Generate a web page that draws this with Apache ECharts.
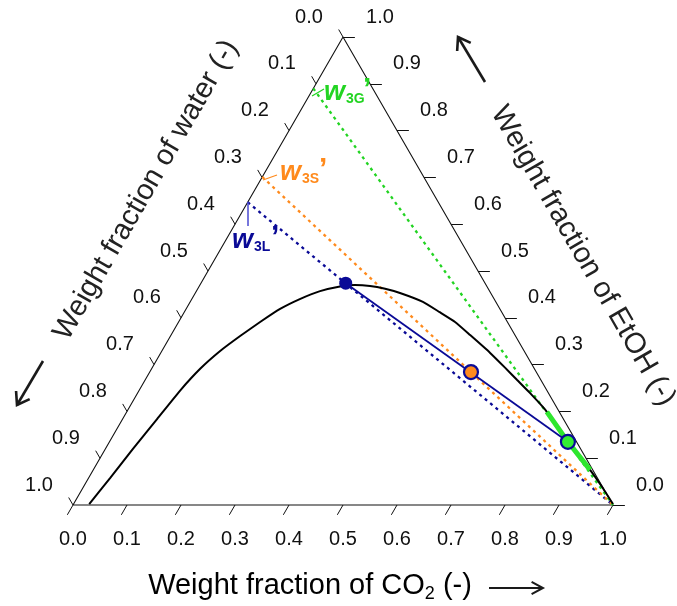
<!DOCTYPE html>
<html><head><meta charset="utf-8">
<script src="https://cdn.jsdelivr.net/npm/echarts@6/dist/echarts.min.js"></script>
<style>html,body{margin:0;padding:0;background:#fff}#c{width:677px;height:606px}</style>
</head><body><div id="c"></div>
<script>
// ---- data (ternary: CO2 fraction, EtOH fraction; water = 1 - CO2 - EtOH) ----
const tickValues = [0, 0.1, 0.2, 0.3, 0.4, 0.5, 0.6, 0.7, 0.8, 0.9, 1.0];
const tickLabels = ['0.0','0.1','0.2','0.3','0.4','0.5','0.6','0.7','0.8','0.9','1.0'];
const binodalCO2  = [0.029, 0.040, 0.051, 0.064, 0.076, 0.090, 0.108, 0.129, 0.151, 0.174, 0.200, 0.229, 0.261, 0.287, 0.316, 0.347, 0.379, 0.431, 0.473, 0.512, 0.554, 0.610, 0.654, 0.689, 0.727, 0.766, 0.778, 0.849, 0.920, 0.960, 0.999];
const binodalEtOH = [0.002, 0.058, 0.120, 0.184, 0.244, 0.291, 0.329, 0.361, 0.391, 0.419, 0.440, 0.457, 0.467, 0.470, 0.468, 0.462, 0.453, 0.434, 0.412, 0.391, 0.363, 0.325, 0.293, 0.267, 0.239, 0.209, 0.199, 0.135, 0.075, 0.039, 0.002];
const gasBranchCO2  = [0.778, 0.849, 0.920];
const gasBranchEtOH = [0.199, 0.135, 0.075];
const phaseNames = ['L', 'S', 'G'];
const phaseCO2  = [0.268, 0.595, 0.849];
const phaseEtOH = [0.474, 0.284, 0.135];
const projWater = [0.353, 0.299, 0.110];   // w3L', w3S', w3G' (CO2-free water fraction)
const phaseColors = ['#0a0a96', '#ff8a1c', '#22d422'];

const H = Math.sqrt(3) / 2;
const toXY = (c, e) => [c + e / 2, e * H];
const FONT = "'Liberation Sans', Arial, sans-serif";

const chart = echarts.init(document.getElementById('c'));

// ticks
const tickLines = [];
tickValues.forEach(t => {
  const b = toXY(t, 0); tickLines.push({coords: [b, [b[0] - 0.5 * 0.021, b[1] - H * 0.021]]});
  const l = toXY(0, 1 - t); tickLines.push({coords: [l, [l[0] - 0.5 * 0.016, l[1] + H * 0.016]]});
  const r = toXY(1 - t, t); tickLines.push({coords: [r, [r[0] + 0.022, r[1]]]});
});

const projLines = projWater.map((w, i) => ({
  coords: [toXY(0, 1 - w), toXY(1, 0)],
  lineStyle: {color: phaseColors[i]}
}));

const labelSeries = (pts, offset) => ({
  type: 'scatter', symbolSize: 0, clip: false, silent: true, z: 20,
  data: pts,
  itemStyle: {opacity: 1},
  label: {show: true, position: 'inside', offset: offset, color: '#111', fontSize: 20, fontFamily: FONT,
          textBorderWidth: 0, opacity: 1, formatter: p => p.data[2]}
});

function arrow(x1, y1, x2, y2, head, spread, w) {
  const ang = Math.atan2(y2 - y1, x2 - x1);
  const a1 = ang + Math.PI - spread, a2 = ang + Math.PI + spread;
  return [
    {type: 'line', shape: {x1, y1, x2, y2}, style: {stroke: '#1a1a1a', lineWidth: w}},
    {type: 'polyline', shape: {points: [[x2 + head * Math.cos(a1), y2 + head * Math.sin(a1)], [x2, y2], [x2 + head * Math.cos(a2), y2 + head * Math.sin(a2)]]},
     style: {stroke: '#1a1a1a', lineWidth: w, fill: null}}
  ];
}
function txt(x, baseline, s, size, color, weight, style) {
  return {type: 'text', x: x, y: baseline + 0.21 * size, z: 50,
    style: {text: s, fill: color, font: (style || 'normal') + ' ' + (weight || 'normal') + ' ' + size + 'px ' + FONT,
            align: 'left', verticalAlign: 'bottom'}};
}
function wLabel(x, base, sub, color) {
  return [
    txt(x, base, 'w', 27, color, 'bold', 'italic'),
    txt(x + 22, base + 3, sub, 14, color, 'bold'),
    txt(x + 39, base - 2, '\u2019', 30, color, 'bold')
  ];
}

const titleRich = {
  t: {fontSize: 29, fontFamily: FONT, color: '#222', lineHeight: 34, verticalAlign: 'middle'},
  s: {fontSize: 18, fontFamily: FONT, color: '#222', lineHeight: 20, verticalAlign: 'bottom'}
};

const graphic = [
  {type: 'text', x: 310, y: 586, z: 50, style: {text: '{t|Weight fraction of CO}{s|2}{t| (-)}', rich: titleRich, align: 'center', verticalAlign: 'middle'}},
  {type: 'text', x: 146, y: 190, rotation: Math.PI / 3, z: 50, style: {text: 'Weight fraction of water (-)', font: '29px ' + FONT, fill: '#222', align: 'center', verticalAlign: 'middle'}},
  {type: 'text', x: 583, y: 256, rotation: -Math.PI / 3, z: 50, style: {text: 'Weight fraction of EtOH (-)', font: '29px ' + FONT, fill: '#222', align: 'center', verticalAlign: 'middle'}},
  ...arrow(43, 361, 17, 405, 14, 0.6, 2.6),
  ...arrow(485, 82, 458, 37, 14, 0.6, 2.6),
  ...arrow(489, 588, 543, 588, 13, 0.5, 2),
  ...wLabel(324, 100, '3G', phaseColors[2]),
  ...wLabel(280, 180, '3S', phaseColors[1]),
  ...wLabel(232, 248, '3L', phaseColors[0]),
  {type: 'line', z: 50, shape: {x1: 324, y1: 89, x2: 312, y2: 96}, style: {stroke: phaseColors[2], lineWidth: 1.3}},
  {type: 'line', z: 50, shape: {x1: 277, y1: 175, x2: 263, y2: 180}, style: {stroke: phaseColors[1], lineWidth: 1.3}},
  {type: 'line', z: 50, shape: {x1: 248, y1: 202, x2: 248, y2: 226}, style: {stroke: '#4a4ad0', lineWidth: 1.5}}
];

const option = {
  animation: false,
  backgroundColor: '#fff',
  grid: {left: 73, top: 37, width: 540, height: 468},
  xAxis: {type: 'value', min: 0, max: 1, show: false},
  yAxis: {type: 'value', min: 0, max: H, show: false},
  graphic: graphic,
  series: [
    {type: 'line', clip: false, symbol: 'none', silent: true, z: 3,
     data: [toXY(0, 0), toXY(1, 0), toXY(0, 1), toXY(0, 0)],
     lineStyle: {color: '#111', width: 1.1}},
    {type: 'lines', coordinateSystem: 'cartesian2d', clip: false, silent: true, z: 3,
     data: tickLines, lineStyle: {color: '#111', width: 1, opacity: 1}},
    {type: 'lines', coordinateSystem: 'cartesian2d', clip: false, silent: true, z: 4,
     data: projLines, lineStyle: {width: 2.3, type: [3, 4], opacity: 1}},
    {type: 'line', clip: false, symbol: 'none', silent: true, z: 5, smooth: 0.15,
     data: binodalCO2.map((c, i) => toXY(c, binodalEtOH[i])),
     lineStyle: {color: '#000', width: 2}},
    {type: 'line', clip: false, symbol: 'none', silent: true, z: 6,
     data: gasBranchCO2.map((c, i) => toXY(c, gasBranchEtOH[i])),
     lineStyle: {color: '#2ee62e', width: 5}},
    {type: 'line', clip: false, symbol: 'none', silent: true, z: 7,
     data: [toXY(phaseCO2[0], phaseEtOH[0]), toXY(phaseCO2[2], phaseEtOH[2])],
     lineStyle: {color: '#0a0a96', width: 1.8}},
    {type: 'scatter', clip: false, silent: true, z: 8,
     data: phaseNames.map((n, i) => ({
       value: toXY(phaseCO2[i], phaseEtOH[i]),
       symbolSize: i === 0 ? 13 : 14,
       itemStyle: i === 0 ? {color: '#0a0a96', opacity: 1} : {color: i === 1 ? '#ff8a1c' : '#33ee33', borderColor: '#0a0a96', borderWidth: 2.2, opacity: 1}
     }))},
    labelSeries(tickValues.map((t, i) => [...toXY(t, 0), tickLabels[i]]), [0, 34]),
    labelSeries(tickValues.map((t, i) => [...toXY(0, 1 - t), tickLabels[i]]), [-34, -20]),
    labelSeries(tickValues.map((t, i) => [...toXY(1 - t, t), tickLabels[i]]), [37, -20])
  ]
};
chart.setOption(option);
</script>
</body></html>
